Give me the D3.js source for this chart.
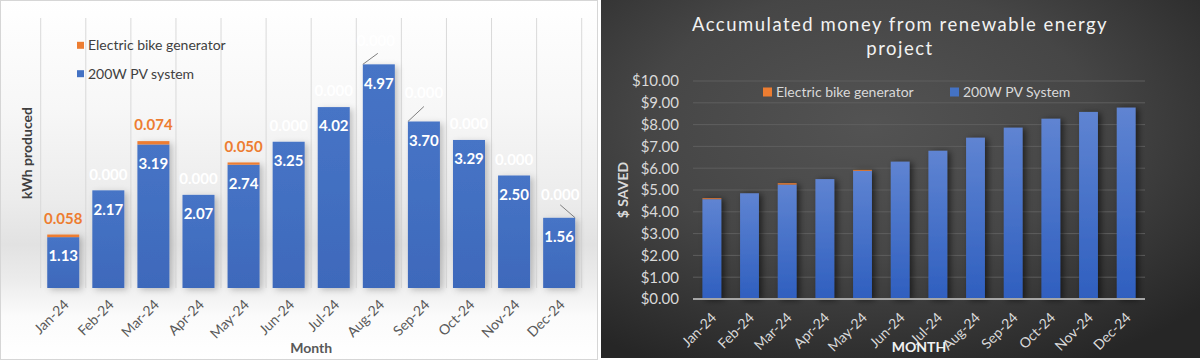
<!DOCTYPE html>
<html><head><meta charset="utf-8">
<script src="https://cdn.jsdelivr.net/npm/d3@7"></script>
<style>
body{margin:0;background:#fff;}
svg{display:block;font-family:Lato,"Open Sans",sans-serif;}
</style>
</head><body>
<svg id="c" width="1200" height="360"></svg>
<script>
// ---------------- data ----------------
const months = ["Jan-24","Feb-24","Mar-24","Apr-24","May-24","Jun-24","Jul-24","Aug-24","Sep-24","Oct-24","Nov-24","Dec-24"];
const pvKwh   = [1.13, 2.17, 3.19, 2.07, 2.74, 3.25, 4.02, 4.97, 3.70, 3.29, 2.50, 1.56];
const bikeKwh = [0.058, 0.000, 0.074, 0.000, 0.050, 0.000, 0.000, 0.000, 0.000, 0.000, 0.000, 0.000];
const kwhDomain = [0, 6];
const pvSaved   = [4.58, 4.85, 5.25, 5.50, 5.88, 6.30, 6.80, 7.40, 7.86, 8.27, 8.58, 8.78];
const bikeSaved = [0.04, 0.00, 0.06, 0.00, 0.04, 0.00, 0.00, 0.00, 0.00, 0.00, 0.00, 0.00];
const savedTicks = [0,1,2,3,4,5,6,7,8,9,10];
const leftSeries  = ["Electric bike generator", "200W PV system"];
const rightSeries = ["Electric bike generator", "200W PV System"];
const rightTitle = ["Accumulated money from renewable energy", "project"];

// label styling (leader-line labels moved by hand in the original)
const leaderLabels = {
  "Aug-24": {dx:-3, dy:-24, corner:"left",  ex:-1, ey:-11},
  "Sep-24": {dx: 0, dy:-29, corner:"left",  ex: 0, ey:-15},
  "Dec-24": {dx: 1, dy:-23, corner:"right", ex: 1, ey:-13}
};

const ORANGE = "#ED7D31", BLUE = "#4472C4";
const svg = d3.select("#c");
const defs = svg.append("defs");

// backgrounds
const lg = defs.append("linearGradient").attr("id","lbg").attr("x1",0).attr("y1",0).attr("x2",0).attr("y2",1);
[[0,"#ffffff"],[0.3,"#f7f7f7"],[0.55,"#ececec"],[0.68,"#e2e2e2"],[0.78,"#ececec"],[0.88,"#fbfbfb"],[1,"#ffffff"]]
  .forEach(([o,c]) => lg.append("stop").attr("offset",o).attr("stop-color",c));
const rg = defs.append("radialGradient").attr("id","rbg").attr("cx",0.45).attr("cy",0.35).attr("r",0.75);
[[0,"#535353"],[0.5,"#464646"],[1,"#262626"]].forEach(([o,c]) => rg.append("stop").attr("offset",o).attr("stop-color",c));
const bg2 = defs.append("linearGradient").attr("id","rbar").attr("x1",0).attr("y1",0).attr("x2",0).attr("y2",1);
[[0,"#5f84d2"],[1,"#2f5fbf"]].forEach(([o,c]) => bg2.append("stop").attr("offset",o).attr("stop-color",c));
const bg1 = defs.append("linearGradient").attr("id","lbar").attr("x1",0).attr("y1",0).attr("x2",0).attr("y2",1);
[[0,"#4674c6"],[1,"#3e69bb"]].forEach(([o,c]) => bg1.append("stop").attr("offset",o).attr("stop-color",c));
defs.append("filter").attr("id","sh1").attr("x","-30%").attr("y","-10%").attr("width","160%").attr("height","130%")
  .append("feDropShadow").attr("dx",3).attr("dy",2).attr("stdDeviation",3).attr("flood-color","#000").attr("flood-opacity",0.22);
defs.append("filter").attr("id","sh2").attr("x","-40%").attr("y","-10%").attr("width","180%").attr("height","130%")
  .append("feDropShadow").attr("dx",3).attr("dy",1).attr("stdDeviation",3).attr("flood-color","#000").attr("flood-opacity",0.55);

// ================= LEFT CHART =================
const L = svg.append("g");
L.append("rect").attr("x",0.5).attr("y",0.5).attr("width",597).attr("height",359)
  .attr("fill","url(#lbg)").attr("stroke","#d6d6d6");

const xL = d3.scaleBand().domain(months).range([40.7, 581.7]).paddingInner(0.29).paddingOuter(0.145);
const yL = d3.scaleLinear().domain(kwhDomain).range([288, 18]);
const stepL = xL.step();
const x0L = xL.range()[0];

// vertical gridlines at category boundaries
L.append("g").selectAll("line").data(d3.range(months.length + 1)).join("line")
  .attr("x1", i => x0L + i*stepL).attr("x2", i => x0L + i*stepL)
  .attr("y1", yL(kwhDomain[1])).attr("y2", yL(0))
  .attr("stroke","#d9d9d9").attr("stroke-width",1);

const rowsL = months.map((m,i) => ({month:m, pv:pvKwh[i], bike:bikeKwh[i]}));
const stackL = d3.stack().keys(["pv","bike"])(rowsL);
const colorL = {pv:"url(#lbar)", bike:ORANGE};
L.append("g").attr("filter","url(#sh1)").selectAll("g").data(stackL).join("g")
  .attr("fill", s => colorL[s.key])
  .selectAll("rect").data(s => s).join("rect")
  .attr("x", d => xL(d.data.month)).attr("width", xL.bandwidth())
  .attr("y", d => yL(d[1])).attr("height", d => yL(d[0]) - yL(d[1]));

// PV labels (inside end)
L.append("g").selectAll("text").data(rowsL).join("text")
  .attr("x", d => xL(d.month) + xL.bandwidth()/2)
  .attr("y", d => yL(d.pv) + 19).attr("dy","0.35em")
  .attr("text-anchor","middle").attr("fill","#fff").attr("font-weight","bold").attr("font-size",15)
  .text(d => d3.format(".2f")(d.pv));

// bike labels (above stack)
const topG = L.append("g");
rowsL.forEach(d => {
  const cx = xL(d.month) + xL.bandwidth()/2;
  const top = yL(d.pv + d.bike);
  const n = leaderLabels[d.month];
  const lx = cx + (n ? n.dx : 0), ly = top + (n ? n.dy : -16);
  if (n) {
    const sx = n.corner === "left" ? xL(d.month) : xL(d.month) + xL.bandwidth();
    topG.append("line").attr("x1", sx).attr("y1", top).attr("x2", cx + n.ex).attr("y2", top + n.ey)
      .attr("stroke","#7f7f7f").attr("stroke-width",1);
  }
  topG.append("text").attr("x", lx).attr("y", ly).attr("dy","0.35em")
    .attr("text-anchor","middle").attr("font-weight","bold").attr("font-size",15)
    .attr("fill", d.bike > 0 ? ORANGE : "#ffffff")
    .text(d3.format(".3f")(d.bike));
});

// x axis
const axL = L.append("g").attr("transform","translate(0,288)").call(d3.axisBottom(xL).tickSize(0));
axL.select(".domain").remove();
axL.selectAll("text").attr("x",0).attr("y",0).attr("dy","0.35em")
  .attr("transform","translate(3,14) rotate(-45)")
  .style("text-anchor","end").attr("fill","#595959").attr("font-size",14).attr("font-family","Lato");

// axis titles
L.append("text").attr("transform",`translate(27,${(yL(kwhDomain[1])+yL(0))/2}) rotate(-90)`)
  .attr("dy","0.35em").attr("text-anchor","middle").attr("font-weight","bold").attr("font-size",14)
  .attr("fill","#404040").text("kWh produced");
L.append("text").attr("x",(xL.range()[0]+xL.range()[1])/2).attr("y",348).attr("dy","0.35em")
  .attr("text-anchor","middle").attr("font-weight","bold").attr("font-size",14)
  .attr("fill","#595959").text("Month");

// legend
const legL = L.append("g");
[[leftSeries[0], ORANGE, 45.3],[leftSeries[1], BLUE, 73.7]].forEach(([t,c,y]) => {
  legL.append("rect").attr("x",77).attr("y",y-3.5).attr("width",7).attr("height",7).attr("fill",c);
  legL.append("text").attr("x",88).attr("y",y).attr("dy","0.35em").attr("font-size",14)
    .attr("fill","#404040").text(t);
});

// ================= RIGHT CHART =================
const R = svg.append("g");
R.append("rect").attr("x",601).attr("y",0).attr("width",599).attr("height",358).attr("fill","url(#rbg)");

const xR = d3.scaleBand().domain(months).range([693, 1145]).paddingInner(0.5).paddingOuter(0.25);
const yR = d3.scaleLinear().domain([savedTicks[0], savedTicks[savedTicks.length-1]]).range([299, 81]);

// gridlines
R.append("g").selectAll("line").data(savedTicks.slice(1)).join("line")
  .attr("x1",693).attr("x2",1145).attr("y1", d => yR(d)).attr("y2", d => yR(d))
  .attr("stroke","#5e5e5e").attr("stroke-width",1);

const rowsR = months.map((m,i) => ({month:m, pv:pvSaved[i], bike:bikeSaved[i]}));
const stackR = d3.stack().keys(["pv","bike"])(rowsR);
const colorR = {pv:"url(#rbar)", bike:ORANGE};
R.append("g").attr("filter","url(#sh2)").selectAll("g").data(stackR).join("g")
  .attr("fill", s => colorR[s.key])
  .selectAll("rect").data(s => s).join("rect")
  .attr("x", d => xR(d.data.month)).attr("width", xR.bandwidth())
  .attr("y", d => yR(d[1])).attr("height", d => Math.max(0, yR(d[0]) - yR(d[1])));

// baseline
R.append("line").attr("x1",693).attr("x2",1145).attr("y1",yR(0)).attr("y2",yR(0))
  .attr("stroke","#a6a6a6").attr("stroke-width",2);

// y axis labels
const ayR = R.append("g").attr("transform","translate(693,0)")
  .call(d3.axisLeft(yR).tickValues(savedTicks).tickFormat(d3.format("$.2f")).tickSize(0).tickPadding(14));
ayR.select(".domain").remove();
ayR.selectAll("text").attr("fill","#d9d9d9").attr("font-size",15).attr("font-family","Lato");

// x axis labels
const axR = R.append("g").attr("transform",`translate(0,${yR(0)})`).call(d3.axisBottom(xR).tickSize(0));
axR.select(".domain").remove();
axR.selectAll("text").attr("x",0).attr("y",0).attr("dy","0.35em")
  .attr("transform","translate(2,16) rotate(-45)")
  .style("text-anchor","end").attr("fill","#d9d9d9").attr("font-size",14).attr("font-family","Lato");

// title
rightTitle.forEach((t,i) => {
  R.append("text").attr("x",900).attr("y",25 + i*24).attr("dy","0.35em").attr("text-anchor","middle")
    .attr("font-size",18.5).attr("letter-spacing","1.5px").attr("fill","#f2f2f2").text(t);
});

// axis titles
R.append("text").attr("transform",`translate(623,${(yR(0)+yR(10))/2}) rotate(-90)`)
  .attr("dy","0.35em").attr("text-anchor","middle").attr("font-weight","bold").attr("font-size",14)
  .attr("fill","#d9d9d9").text("$ SAVED");
R.append("text").attr("x",919).attr("y",347).attr("dy","0.35em")
  .attr("text-anchor","middle").attr("font-weight","bold").attr("font-size",14)
  .attr("fill","#f2f2f2").text("MONTH");

// legend
const legR = R.append("g");
[[rightSeries[0], ORANGE, 763],[rightSeries[1], BLUE, 950]].forEach(([t,c,x]) => {
  legR.append("rect").attr("x",x).attr("y",92-4.5).attr("width",9).attr("height",9).attr("fill",c);
  legR.append("text").attr("x",x+13).attr("y",92).attr("dy","0.35em").attr("font-size",14)
    .attr("fill","#d9d9d9").text(t);
});
</script>
</body></html>
